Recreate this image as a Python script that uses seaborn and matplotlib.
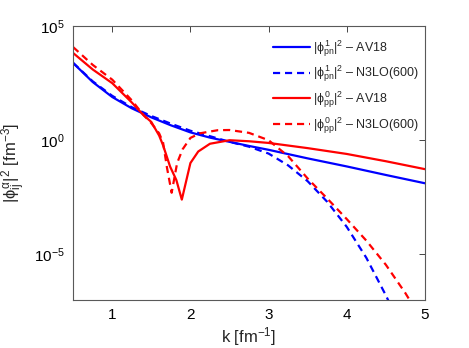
import numpy as np
import seaborn as sns
import matplotlib.pyplot as plt
from matplotlib.ticker import FixedLocator, NullLocator

sns.set_style("white")
plt.rcParams['font.family'] = ['Liberation Sans', 'DejaVu Sans']
plt.rcParams['mathtext.fontset'] = 'custom'
plt.rcParams['mathtext.rm'] = 'Liberation Sans'
plt.rcParams['mathtext.it'] = 'Liberation Sans'
plt.rcParams['mathtext.bf'] = 'Liberation Sans:bold'

# |phi|^2 momentum distributions
k_pn_av18 = [0.5, 0.75, 1.0, 1.25, 1.5, 1.75, 2.0, 2.25, 2.5, 2.75, 3.0, 3.5, 4.0, 4.5, 5.0]
pn_av18 = [2400, 355, 78, 25, 10, 4.5, 2.2, 1.3, 0.85, 0.56, 0.38, 0.16, 0.071, 0.030, 0.013]

k_pn_n3lo = [0.5, 0.75, 1.0, 1.25, 1.5, 1.75, 2.0, 2.25, 2.5, 2.75, 3.0, 3.25, 3.5,
             3.75, 4.0, 4.25, 4.5, 4.75]
pn_n3lo = [2450, 380, 88, 28, 11.5, 5.3, 2.6, 1.5, 0.85, 0.52, 0.26, 0.079, 0.016,
           2.0e-3, 1.6e-4, 7.1e-6, 1.6e-7, 2.5e-9]

k_pp_av18 = [0.5, 0.75, 1.0, 1.25, 1.4, 1.5, 1.6, 1.65, 1.74, 1.82, 1.89, 2.0, 2.1, 2.25,
             2.5, 2.75, 3.0, 3.5, 4.0, 4.5, 5.0]
pp_av18 = [6600, 1260, 316, 45, 12.6, 6.3, 1.6, 0.6, 0.07, 0.018, 0.0025, 0.1, 0.32, 0.7,
           1.0, 0.9, 0.76, 0.45, 0.25, 0.12, 0.054]

k_pp_n3lo = [0.5, 0.75, 1.0, 1.25, 1.4, 1.5, 1.6, 1.65, 1.7, 1.76, 1.83, 1.9, 2.0, 2.12,
             2.35, 2.5, 2.75, 3.0, 3.25, 3.5, 3.75, 4.0, 4.25, 4.5, 4.75, 5.0]
pp_n3lo = [12000, 2000, 450, 56, 12.6, 5.6, 2.0, 0.8, 0.063, 0.005, 0.1, 0.4, 1.26, 2.0,
           2.75, 2.8, 2.1, 1.0, 0.2, 0.021, 2.8e-3, 3.5e-4, 4.0e-5, 3.5e-6, 2.0e-7, 8e-9]

labels = [r'$|\phi^{1}_{pn}|^2$ – AV18',
          r'$|\phi^{1}_{pn}|^2$ – N3LO(600)',
          r'$|\phi^{0}_{pp}|^2$ – AV18',
          r'$|\phi^{0}_{pp}|^2$ – N3LO(600)']

fig = plt.figure(figsize=(4.69, 3.48), dpi=100)
ax = fig.add_axes([0.156, 0.138, 0.750, 0.787])

series = [(k_pn_av18, pn_av18, 'blue', '-'),
          (k_pn_n3lo, pn_n3lo, 'blue', '--'),
          (k_pp_av18, pp_av18, 'red', '-'),
          (k_pp_n3lo, pp_n3lo, 'red', '--')]
for (k, v, c, ls), lab in zip(series, labels):
    sns.lineplot(x=k, y=v, color=c, linestyle=ls, linewidth=1.6, label=lab,
                 sort=False, ax=ax)
for ln in ax.get_lines():
    if ln.get_linestyle() == '--':
        ln.set_dashes((3.2, 2.2))

ax.set_yscale('log')
ax.set_xlim(0.5, 5)
ax.set_ylim(1e-7, 1e5)
ax.set_xticks([1, 2, 3, 4, 5])
ax.yaxis.set_major_locator(FixedLocator([1e-5, 1, 1e5]))
ax.yaxis.set_minor_locator(NullLocator())
ax.tick_params(axis='both', which='major', direction='in', length=4, width=0.6,
               top=True, right=True, labelsize=11, colors='0.15', pad=6)
ax.tick_params(axis='both', labelcolor='black')
for s in ax.spines.values():
    s.set_color('0.35')
    s.set_linewidth(0.8)

ax.set_xlabel(r'k [fm$^{-1}$]', fontsize=12, labelpad=2)
ax.set_ylabel(r'$|\phi^{\alpha}_{ij}|^2$ [fm$^{-3}$]', fontsize=12, labelpad=4)

leg = ax.legend(loc='upper right', bbox_to_anchor=(1.018, 1.0), frameon=False,
                fontsize=9, handlelength=2.9, labelspacing=0.42, borderaxespad=0.55,
                handletextpad=0.3)
for ln in leg.get_lines():
    if ln.get_linestyle() == '--':
        ln.set_dashes((3.2, 2.2))

fig.savefig('out.png', dpi=100, facecolor='white')
